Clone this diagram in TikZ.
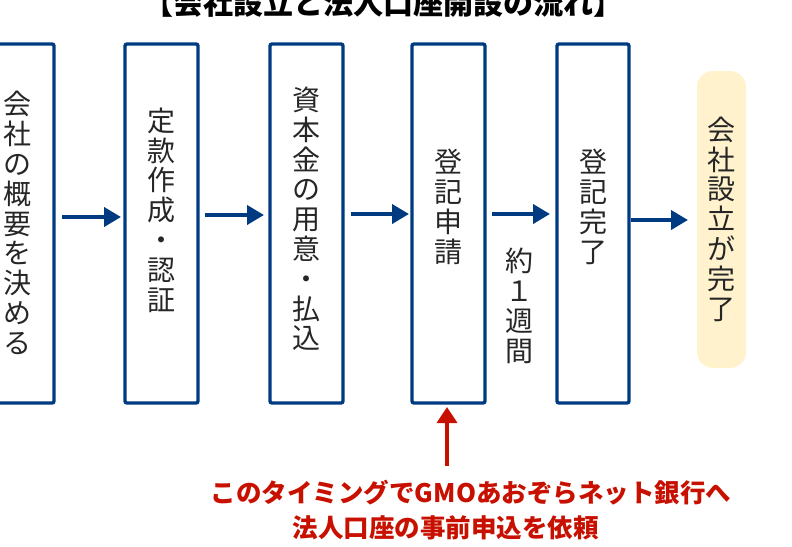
\documentclass[tikz,border=0pt]{standalone}
\usepackage{fontspec}
\newfontfamily\jp{Noto Sans CJK JP}
\usetikzlibrary{arrows.meta}
\definecolor{boxblue}{RGB}{0,59,130}
\definecolor{noteRed}{RGB}{200,16,0}
\definecolor{pillYellow}{RGB}{255,242,204}
\tikzset{
  stepbox/.style={draw=boxblue, line width=3.4pt, rounded corners=2pt},
  vtext/.style={font=\jp\fontsize{28}{29.8}\selectfont, align=center, inner sep=0pt, text=black!85},
  flow/.style={draw=boxblue, line width=4pt, -{Triangle[length=17pt,width=19pt]}},
  notearrow/.style={draw=noteRed, line width=3.5pt, -{Triangle[length=16pt,width=20pt]}},
  notetext/.style={font=\jp\bfseries\fontsize{25.5}{35}\selectfont, text=noteRed, inner sep=0pt, align=center},
}
\begin{document}
\begin{tikzpicture}[x=1pt,y=-1pt]
\useasboundingbox (0,0) rectangle (792,546);
% title
\node[font=\jp\bfseries\fontsize{30}{32}\selectfont, inner sep=0pt] (title) at (383,3) {【会社設立と法人口座開設の流れ】};
% boxes
\draw[stepbox] (-19,44) rectangle (54,403);
\draw[stepbox] (125,44) rectangle (198,403);
\draw[stepbox] (270,44) rectangle (343,403);
\draw[stepbox] (412,44) rectangle (485,403);
\draw[stepbox] (557,44) rectangle (629,403);
% box texts
\node[vtext] (t1) at (17.5,223) {会\\社\\の\\概\\要\\を\\決\\め\\る};
\node[vtext] (t2) at (161.5,210) {定\\款\\作\\成\\・\\認\\証};
\node[vtext] (t3) at (306.5,219) {資\\本\\金\\の\\用\\意\\・\\払\\込};
\node[vtext] (t4) at (448.5,207) {登\\記\\申\\請};
\node[vtext] (t5) at (593,207) {登\\記\\完\\了};
% pill
\node[fill=pillYellow, rounded corners=16pt, minimum width=49pt, minimum height=297pt, inner sep=0pt] (pill) at (721.5,219.5) {};
\node[vtext] (t6) at (721.5,219) {会\\社\\設\\立\\が\\完\\了};
% duration label
\node[vtext] (dur) at (519,306) {約\\１\\週\\間};
% flow arrow anchors
\coordinate (a1s) at (62,217); \coordinate (a1e) at (121,217);
\coordinate (a2s) at (205,215); \coordinate (a2e) at (264,215);
\coordinate (a3s) at (351,214); \coordinate (a3e) at (409,214);
\coordinate (a4s) at (492,214); \coordinate (a4e) at (550,214);
\coordinate (a5s) at (631,220); \coordinate (a5e) at (688,220);
\draw[flow] (a1s) -- (a1e);
\draw[flow] (a2s) -- (a2e);
\draw[flow] (a3s) -- (a3e);
\draw[flow] (a4s) -- (a4e);
\draw[flow] (a5s) -- (a5e);
% note
\node[notetext] (n1) at (471,493) {このタイミングでGMOあおぞらネット銀行へ};
\node[notetext] (n2) at (445.5,528) {法人口座の事前申込を依頼};
\coordinate (ns) at (447,466);
\coordinate (ne) at (447,407);
\draw[notearrow] (ns) -- (ne);
\end{tikzpicture}
\end{document}
